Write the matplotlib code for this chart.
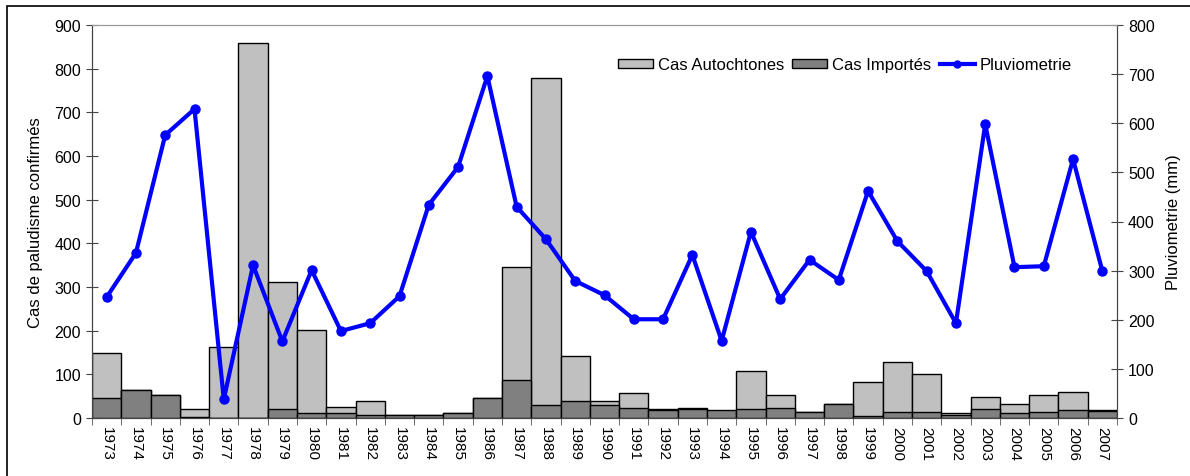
import matplotlib
matplotlib.use("Agg")
import matplotlib.pyplot as plt
import numpy as np
from matplotlib.patches import Rectangle
from matplotlib.lines import Line2D

plt.rcParams['font.family'] = ['Liberation Sans', 'DejaVu Sans']

years = list(range(1973, 2008))

# cases (left axis)
autochtones = [148, 65, 53, 21, 163, 858, 312, 201, 26, 38, 8, 8, 12, 45, 346, 779,
               142, 39, 57, 21, 24, 17, 107, 53, 14, 32, 83, 128, 100, 11, 47, 32,
               53, 59, 18]
importes = [45, 65, 53, 3, 0, 0, 21, 11, 12, 8, 8, 8, 12, 45, 87, 29,
            38, 29, 24, 18, 21, 18, 20, 24, 14, 32, 5, 14, 14, 7, 21, 11,
            14, 18, 15]

# rainfall (right axis, mm)
pluvio = [246, 336, 576, 629, 38, 311, 156, 301, 177, 193, 248, 434, 511, 696, 430, 364,
          279, 250, 201, 201, 332, 157, 379, 242, 322, 281, 462, 360, 299, 193, 598, 307,
          309, 527, 299]

x = np.arange(len(years))

fig = plt.figure(figsize=(11.9, 4.77), dpi=100)
ax = fig.add_axes([92 / 1190, 1 - 419 / 477, (1117 - 92) / 1190, (419 - 26) / 477])
ax2 = ax.twinx()

b1 = ax.bar(x, autochtones, width=1.0, color='#C0C0C0', edgecolor='black', linewidth=1,
            label='Cas Autochtones', zorder=2)
b2 = ax.bar(x, importes, width=1.0, color='#808080', edgecolor='black', linewidth=1,
            label='Cas Importés', zorder=3)
l1, = ax2.plot(x, pluvio, color='#0000FF', linewidth=3, marker='o', markersize=6.5,
               label='Pluviometrie')

ax.set_xlim(-0.5, len(years) - 0.5)
ax.set_ylim(0, 900)
ax.set_yticks(range(0, 901, 100))
ax2.set_ylim(0, 800)
ax2.set_yticks(range(0, 801, 100))

ax.set_xticks(x)
ax.set_xticklabels([str(y) for y in years], rotation=-90, fontsize=11)
ax.set_xticks(np.arange(-0.5, len(years), 1.0), minor=True)
ax.tick_params(axis='x', which='major', length=0, pad=6)
ax.tick_params(axis='x', which='minor', length=5, direction='out', color='#555555')
ax.tick_params(axis='y', direction='inout', length=8, labelsize=11.5, color='#444444', pad=4)
ax2.tick_params(axis='y', direction='inout', length=8, labelsize=11.5, color='#444444', pad=4)

ax.set_ylabel('Cas de paludisme confirmés', fontsize=12, labelpad=8)
ax2.set_ylabel('Pluviometrie (mm)', fontsize=12, labelpad=8)

for a in (ax, ax2):
    a.spines['top'].set_color('#999999')
    a.spines['top'].set_linewidth(0.8)
    a.spines['left'].set_color('#444444')
    a.spines['right'].set_color('#444444')
    a.spines['bottom'].set_color('#444444')

leg_line = Line2D([], [], color='#0000FF', linewidth=3, marker='o', markersize=5)
ax2.legend([b1, b2, leg_line], ['Cas Autochtones', 'Cas Importés', 'Pluviometrie'],
           loc='upper right', bbox_to_anchor=((1072 - 92) / 1025, (419 - 58) / 393),
           ncol=3, frameon=False, fontsize=12, borderpad=0, borderaxespad=0,
           handlelength=2.1, handleheight=0.45, handletextpad=0.3, columnspacing=0.5)

# outer frame around the figure
fig.patches.append(Rectangle((7 / 1190, -0.01), 1.0, 1 - 7 / 477 + 0.01,
                             transform=fig.transFigure, fill=False,
                             edgecolor='black', linewidth=1.2))

fig.savefig('out.png', dpi=100)
